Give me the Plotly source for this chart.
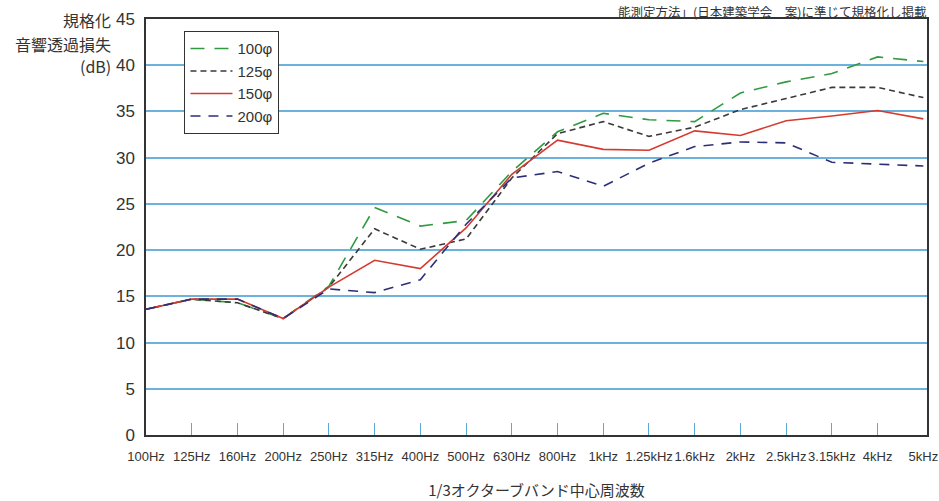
import plotly.graph_objects as go

bands = ["100Hz", "125Hz", "160Hz", "200Hz", "250Hz", "315Hz", "400Hz", "500Hz", "630Hz",
         "800Hz", "1kHz", "1.25kHz", "1.6kHz", "2kHz", "2.5kHz", "3.15kHz", "4kHz", "5kHz"]

tl_100 = [13.6, 14.7, 14.3, 12.6, 16.1, 24.6, 22.6, 23.2, 28.5, 32.8, 34.8, 34.1, 33.9, 37.0, 38.2, 39.1, 40.9, 40.4]
tl_125 = [13.6, 14.7, 14.3, 12.6, 16.0, 22.3, 20.1, 21.2, 27.8, 32.6, 33.9, 32.3, 33.3, 35.2, 36.4, 37.6, 37.6, 36.5]
tl_150 = [13.6, 14.7, 14.7, 12.6, 16.0, 18.9, 18.0, 22.4, 28.2, 31.9, 30.9, 30.8, 32.9, 32.4, 34.0, 34.5, 35.1, 34.2]
tl_200 = [13.6, 14.7, 14.7, 12.6, 15.8, 15.4, 16.8, 22.8, 27.8, 28.5, 26.9, 29.4, 31.2, 31.7, 31.6, 29.5, 29.3, 29.1]

series_names = ["100φ", "125φ", "150φ", "200φ"]
series_values = [tl_100, tl_125, tl_150, tl_200]
series_colors = ["#2f9a3f", "#3a3a3a", "#d63a2f", "#2c2f78"]
series_dash = ["14px,10px", "6px,4px", "solid", "10px,8px"]

y_ticks = [0, 5, 10, 15, 20, 25, 30, 35, 40, 45]
inner_ticks = list(range(1, len(bands) - 1))

y_title_lines = ["規格化", "音響透過損失", "(dB)"]

xs = list(range(len(bands)))

fig = go.Figure()
for name, vals, col, dash in zip(series_names, series_values, series_colors, series_dash):
    fig.add_trace(go.Scatter(x=xs, y=vals, mode="lines", name=name,
                             line=dict(color=col, width=1.6, dash=dash)))

# helper trace for the inner blue tick marks
fig.add_trace(go.Scatter(x=[0, len(bands) - 1], y=[None, None], xaxis="x2",
                         showlegend=False, hoverinfo="skip"))

fig.update_layout(
    width=939, height=501,
    margin=dict(l=146, r=12, t=19, b=66, autoexpand=False),
    paper_bgcolor="white", plot_bgcolor="white",
    font=dict(family="Liberation Sans, Arial, sans-serif", color="#333333"),
    xaxis=dict(
        range=[0, 17.08],
        tickvals=xs, ticktext=bands,
        tickfont=dict(family="Liberation Sans, Arial, sans-serif", size=13, color="#333"),
        tickangle=0, automargin=False,
        showgrid=False, zeroline=False,
        showline=True, linecolor="#333", linewidth=1.5, mirror=True,
        ticks="", ticklabelstandoff=9,
        title=dict(text="1/3オクターブバンド中心周波数",
                   font=dict(family="Noto Sans CJK JP", size=15, color="#333"), standoff=22),
    ),
    xaxis2=dict(
        range=[0, 17.08], overlaying="x", anchor="y", side="bottom",
        tickvals=inner_ticks, showticklabels=False, automargin=False,
        ticks="inside", ticklen=12, tickwidth=1.2, tickcolor="#5aaad6",
        showgrid=False, zeroline=False, showline=False,
    ),
    yaxis=dict(
        range=[0, 45], tickvals=y_ticks, automargin=False,
        tickfont=dict(size=17, color="#333"),
        showgrid=True, gridcolor="#6bb2dc", gridwidth=1.5,
        zeroline=False,
        showline=True, linecolor="#333", linewidth=1.5, mirror=True,
        ticks="", ticklabelstandoff=6,
    ),
    legend=dict(
        x=0.049, y=0.971, xanchor="left", yanchor="top",
        bgcolor="white", bordercolor="#333", borderwidth=1.2,
        font=dict(size=15, color="#333"),
        tracegroupgap=0, itemwidth=42, entrywidth=70,
    ),
    showlegend=True,
)

for line_text, ypos in zip(y_title_lines, [0.9976, 0.9411, 0.888]):
    fig.add_annotation(
        xref="paper", yref="paper", x=-0.049, y=ypos, xanchor="right", yanchor="middle",
        xshift=4, text=line_text, showarrow=False, borderpad=0,
        font=dict(family="Noto Sans CJK JP", size=16, color="#333"),
    )
fig.add_annotation(
    xref="paper", yref="paper", x=1.002, y=1.0457, xanchor="right", yanchor="top",
    text="能測定方法」(日本建築学会　案)に準じて規格化し掲載", showarrow=False,
    font=dict(family="Noto Sans CJK JP", size=12.5, color="#333"),
)

fig.write_html("out.html", post_script="document.body.style.margin='0';",
               config={"displayModeBar": False})
